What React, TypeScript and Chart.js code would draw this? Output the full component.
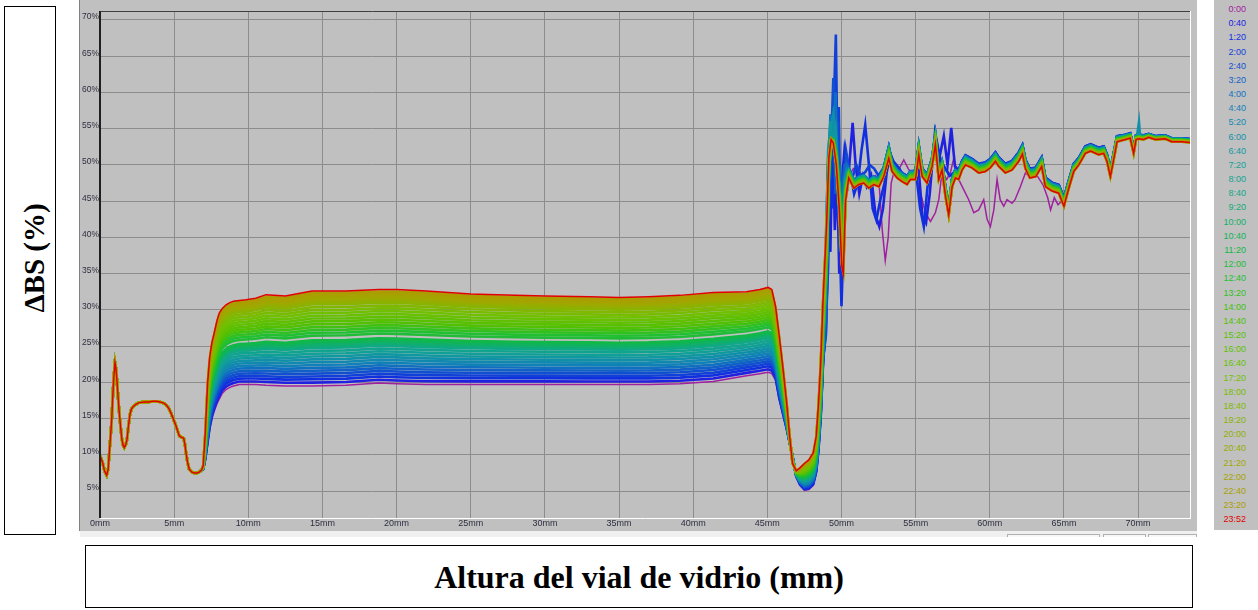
import React, { useEffect, useRef } from "react";
import { Chart, registerables } from "chart.js";

Chart.register(...registerables);

// ---------- legend / scan times ----------
const scanLabels = [
  "0:00", "0:40", "1:20", "2:00", "2:40", "3:20", "4:00", "4:40", "5:20", "6:00",
  "6:40", "7:20", "8:00", "8:40", "9:20", "10:00", "10:40", "11:20", "12:00", "12:40",
  "13:20", "14:00", "14:40", "15:20", "16:00", "16:40", "17:20", "18:00", "18:40", "19:20",
  "20:00", "20:40", "21:20", "22:00", "22:40", "23:20", "23:52",
];

const scanColors = [
  "#a020a0", "#2020e0", "#1030e0", "#1040d8", "#1050d0", "#1060c8", "#1070c0", "#1080b8", "#1088b0", "#1090a8",
  "#1098a0", "#10a098", "#10a490", "#10a888", "#10ac78", "#10b068", "#10b458", "#10b848", "#20bc38", "#20c030",
  "#30c020", "#40c010", "#50c000", "#58c000", "#60c000", "#68c000", "#70c000", "#78bc00", "#80b800", "#88b400",
  "#90b000", "#98ac00", "#a0a800", "#a4a400", "#a8a000", "#ac9c00", "#e00000",
];

// position of each scan inside the growing band (0 = first scan, 1 = last scan)
const scanPosition = [
  0, 0.035, 0.07, 0.1, 0.13, 0.16, 0.19, 0.22, 0.25, 0.28,
  0.31, 0.34, 0.37, 0.4, 0.42, 0.44, 0.46, 0.48, 0.53, 0.56,
  0.59, 0.62, 0.65, 0.68, 0.71, 0.74, 0.77, 0.8, 0.83, 0.86,
  0.88, 0.9, 0.92, 0.94, 0.96, 0.98, 1.0,
];

// ---------- axes ----------
const xTickValues = [0, 5, 10, 15, 20, 25, 30, 35, 40, 45, 50, 55, 60, 65, 70];
const yTickValues = [5, 10, 15, 20, 25, 30, 35, 40, 45, 50, 55, 60, 65, 70];

// ---------- common bottom part (0 - 6.85 mm), identical for all scans ----------
const baseX = [0, 0.18, 0.3, 0.45, 0.55, 0.63, 0.72, 0.79, 0.86, 0.92, 1.01, 1.07, 1.12, 1.2, 1.3, 1.4, 1.48, 1.56, 1.64, 1.73, 1.82, 1.92, 2.02, 2.12, 2.25, 2.45, 2.65, 3.0, 3.32, 3.55, 3.77, 4.05, 4.34, 4.5, 4.67, 4.9, 5.12, 5.35, 5.5, 5.64, 5.72, 5.8, 5.9, 6.02, 6.2, 6.36, 6.55, 6.69, 6.85];
const baseY = [9.9, 8.9, 7.8, 7.2, 8.0, 10.3, 12.8, 14.9, 18.0, 20.4, 22.7, 22.0, 20.9, 18.5, 15.8, 13.6, 12.1, 11.3, 11.0, 11.4, 12.1, 14.0, 15.6, 16.3, 16.7, 17.0, 17.2, 17.3, 17.3, 17.4, 17.4, 17.3, 17.1, 16.8, 16.3, 15.2, 14.0, 12.6, 12.4, 12.3, 11.5, 10.3, 9.0, 8.0, 7.6, 7.5, 7.5, 7.6, 7.9];

// ---------- middle zone (6.96 - 48.75 mm): first scan (0:00) and last scan (23:52) ----------
const fanX = [6.96, 7.1, 7.26, 7.4, 7.55, 7.7, 7.9, 8.05, 8.25, 8.5, 8.75, 9.0, 9.4, 9.85, 10.5, 11.2, 12.5, 14.3, 16.6, 18.8, 20, 22, 25, 28, 30, 33, 35, 37, 39.1, 41.35, 43.6, 44.5, 45.05, 45.3, 45.55, 45.8, 46.05, 46.3, 46.5, 46.7, 46.95, 47.2, 47.5, 47.8, 48.1, 48.3, 48.45, 48.6, 48.75];
const fanLow = [8.0, 9.3, 11.5, 13.5, 15.0, 16.0, 17.1, 17.7, 18.5, 19.0, 19.3, 19.5, 19.7, 19.7, 19.7, 19.6, 19.5, 19.5, 19.6, 19.9, 19.8, 19.7, 19.7, 19.7, 19.7, 19.7, 19.7, 19.7, 19.8, 20.1, 20.9, 21.2, 21.4, 21.2, 20.3, 17.6, 15.5, 13.5, 11.7, 9.8, 7.0, 5.8, 5.1, 5.2, 5.8, 7.5, 10.5, 15.0, 22.0];
const fanHigh = [8.5, 13, 20, 23.5, 25.5, 26.8, 28.6, 29.6, 30.2, 30.7, 31.0, 31.2, 31.3, 31.4, 31.6, 32.1, 31.9, 32.6, 32.6, 32.8, 32.8, 32.6, 32.2, 32.0, 31.9, 31.8, 31.7, 31.8, 32.0, 32.4, 32.5, 32.8, 33.1, 32.8, 30.5, 26.4, 22.0, 17.2, 12.6, 8.8, 7.8, 8.2, 8.8, 9.3, 10.3, 12.6, 17.0, 22.7, 31.0];

// ---------- top zone (49 - 73.5 mm): lower edge of the band and band thickness ----------
const bandX = [49.0, 49.15, 49.3, 49.45, 49.65, 49.85, 50.02, 50.12, 50.27, 50.49, 50.83, 51.17, 51.5, 51.84, 52.18, 52.52, 52.85, 53.19, 53.41, 53.75, 54.09, 54.42, 54.65, 54.99, 55.21, 55.44, 55.77, 56.11, 56.33, 56.56, 56.78, 57.01, 57.23, 57.46, 57.68, 57.9, 58.13, 58.36, 58.8, 59.25, 59.7, 60.04, 60.38, 60.6, 61.05, 61.5, 61.95, 62.2, 62.4, 62.7, 63.1, 63.5, 63.75, 64.2, 64.65, 65.0, 65.3, 65.66, 66.0, 66.44, 66.8, 67.34, 67.68, 67.9, 68.13, 68.35, 68.58, 69.14, 69.47, 69.7, 69.86, 70.04, 70.37, 70.71, 71.16, 71.83, 72.28, 72.96, 73.5];
const bandLow = [42, 51, 53.5, 53, 50, 44, 36, 35, 45, 48.2, 46.8, 47.3, 47.5, 46.8, 47.3, 47.0, 48.4, 50.9, 49.1, 48.2, 47.7, 47.3, 48.0, 48.0, 51.4, 48.4, 47.5, 49.8, 52.8, 48.0, 49.3, 45.7, 43.1, 47.0, 48.2, 48.0, 49.3, 50.0, 49.6, 48.9, 49.1, 49.6, 50.5, 49.8, 48.9, 49.3, 50.5, 51.5, 49.5, 48.2, 48.4, 49.8, 47.0, 46.4, 46.1, 44.3, 46.6, 49.1, 50.0, 51.6, 51.9, 51.4, 51.6, 50.5, 48.4, 50.7, 53.2, 53.5, 53.7, 51.6, 53.5, 53.6, 53.5, 53.8, 53.5, 53.6, 53.2, 53.2, 53.1];
const bandSpread = [-10, -4, 0, 1, 3, 5, 11, 12, 4, 1.5, 1.3, 1.3, 1.3, 1.3, 1.3, 1.3, 1.4, 1.8, 1.4, 1.3, 1.3, 1.3, 1.3, 1.3, 1.5, 1.3, 1.3, 1.3, 1.5, 1.3, 1.3, 1.3, 1.3, 1.3, 1.3, 1.3, 1.3, 1.4, 1.3, 1.3, 1.3, 1.3, 1.3, 1.3, 1.3, 1.3, 1.3, 1.3, 1.3, 1.3, 1.3, 1.3, 1.3, 1.2, 1.2, 1.2, 1.1, 1.1, 1.0, 1.0, 1.0, 1.0, 1.0, 1.0, 1.0, 0.9, 0.8, 0.7, 0.7, 0.7, 0.6, 0.6, 0.6, 0.5, 0.5, 0.5, 0.5, 0.5, 0.5];

// ---------- individual scans that leave the band ----------
const scan0X = [48.9, 49.1, 49.3, 49.55, 49.8, 50.1, 50.4, 50.8, 51.2, 51.5, 51.9, 52.3, 52.55, 52.75, 52.95, 53.15, 53.35, 53.6, 53.9, 54.2, 54.5, 54.8, 55.1, 55.4, 55.66, 56.0, 56.33, 56.56, 56.78, 57.1, 57.35, 57.57, 57.9, 58.24, 58.58, 58.92, 59.25, 59.59, 59.82, 60.04, 60.27, 60.49, 60.7, 60.94, 61.16, 61.5, 61.7, 62.06, 62.4, 62.8, 63.2, 63.6, 63.9, 64.1, 64.35, 64.6, 64.85, 65.1, 65.4];
const scan0Y = [33, 45, 50, 46, 41, 45, 48, 49.5, 49, 48.5, 47.5, 48.5, 47, 41, 36.8, 40, 47.5, 49.5, 49.5, 50.7, 49.5, 48.5, 47.7, 45.5, 43.4, 42.2, 43.4, 45.2, 49, 48, 49, 50.9, 48, 46.6, 45.2, 43.4, 43.8, 45.2, 42.5, 41.5, 43.8, 48, 45.2, 44.3, 45.2, 44.7, 45.2, 47, 48.9, 48.2, 48.5, 47.2, 45.5, 43.8, 45.5, 44.5, 45, 46, 47.5];

const scan1X = [48.95, 49.1, 49.25, 49.4, 49.55, 49.7, 49.85, 50.0, 50.2, 50.45, 50.75, 50.95, 51.2, 51.45, 51.7, 52.0, 52.3, 52.55, 52.8, 53.05, 53.3, 53.6, 54.0, 54.4, 54.8, 55.2, 55.45, 55.7, 55.95, 56.3, 56.6, 56.9, 57.15, 57.4, 57.65, 57.9];
const scan1Y = [30, 45, 38, 55, 41, 49, 35, 47, 52, 48, 55.8, 50, 46, 48.5, 47, 48.5, 43, 41.5, 44, 49, 51.5, 49.5, 49, 48.5, 49, 49.5, 43, 42, 46, 54.4, 51, 54, 50, 55.1, 49.8, 49.3];

const scan2X = [48.95, 49.1, 49.25, 49.4, 49.55, 49.7, 49.85, 50.0, 50.2, 50.4, 50.6, 50.85, 51.1, 51.35, 51.6, 51.85, 52.1, 52.35, 52.6, 52.9, 53.2, 53.5, 53.9, 54.3, 54.7, 55.0, 55.3, 55.55, 55.8, 56.1, 56.4, 56.7, 57.0, 57.3, 57.6];
const scan2Y = [28, 36, 52, 44, 60, 47, 42, 30.5, 44, 50, 49, 46, 47.5, 52, 55.5, 50, 44, 42.4, 45, 47.5, 52, 50.5, 49.5, 48, 48.5, 49.5, 44, 41.5, 47, 50, 53.5, 50.5, 49.5, 48.5, 49];

const scan3X = [48.95, 49.1, 49.25, 49.45, 49.62, 49.72, 49.82, 49.95, 50.1, 50.3, 50.5, 50.7, 51.0, 51.3, 51.6, 51.9, 52.2, 52.5, 52.8];
const scan3Y = [27, 40, 48, 56, 68, 52, 58, 38, 45, 52, 49.5, 48, 50, 48.5, 49, 50, 49.5, 48.5, 49.5];

const spikeX = [48.95, 49.1, 49.25, 49.45, 49.6, 49.75, 49.9, 50.05, 50.2, 50.35];
const spike4Y = [26.5, 42, 50, 62, 50, 56, 44, 40, 49, 51];
const spike5Y = [30, 48, 54, 58, 46, 52, 38, 47, 50, 50];
const spike6Y = [33, 46, 57, 52, 60, 48, 50, 36, 47, 50];
const spike7Y = [35, 50, 55, 54, 50, 47, 42, 44, 48, 49.5];
const spike8Y = [37, 50, 54, 56, 52, 46, 40, 38, 47, 49];
const spike9Y = [38, 52, 55, 57, 51, 48, 45, 41, 48, 49];
const spike10Y = [40, 51, 56, 53, 55, 49, 43, 39, 46, 49];

const scan9X = [69.92, 70.06, 70.12, 70.22];
const scan9Y = [53.9, 55.9, 54.3, 53.9];

const overrideList: [number, number[], number[]][] = [
  [0, scan0X, scan0Y],
  [1, scan1X, scan1Y],
  [2, scan2X, scan2Y],
  [3, scan3X, scan3Y],
  [4, spikeX, spike4Y],
  [5, spikeX, spike5Y],
  [6, spikeX, spike6Y],
  [7, spikeX, spike7Y],
  [8, spikeX, spike8Y],
  [9, spikeX, spike9Y],
  [9, scan9X, scan9Y],
  [10, spikeX, spike10Y],
];

function buildScan(i: number) {
  const p = scanPosition[i];
  const head = baseX.map((x, j) => ({ x, y: baseY[j] }));
  const mid = fanX.map((x, j) => ({ x, y: fanLow[j] + p * (fanHigh[j] - fanLow[j]) }));
  let tail = bandX.map((x, j) => ({ x, y: bandLow[j] + (1 - p) * bandSpread[j] }));
  overrideList
    .filter((o) => o[0] === i)
    .forEach(([, ox, oy]) => {
      const lo = ox[0];
      const hi = ox[ox.length - 1];
      tail = tail
        .filter((pt) => pt.x < lo || pt.x > hi)
        .concat(ox.map((x, j) => ({ x, y: oy[j] })));
    });
  tail.sort((a, b) => a.x - b.x);
  return head.concat(mid, tail);
}

const framePlugin = {
  id: "frame",
  afterDraw(chart: any) {
    const { ctx, chartArea: a } = chart;
    ctx.save();
    ctx.lineWidth = 1;
    ctx.strokeStyle = "#ffffff";
    ctx.beginPath();
    ctx.moveTo(a.left, Math.round(a.bottom) + 0.5);
    ctx.lineTo(a.right + 1, Math.round(a.bottom) + 0.5);
    ctx.moveTo(Math.round(a.right) + 0.5, a.top);
    ctx.lineTo(Math.round(a.right) + 0.5, a.bottom + 1);
    ctx.stroke();
    ctx.strokeStyle = "#404040";
    ctx.beginPath();
    ctx.moveTo(a.left, Math.round(a.top) + 0.5);
    ctx.lineTo(a.right, Math.round(a.top) + 0.5);
    ctx.stroke();
    ctx.strokeStyle = "#202020";
    ctx.lineWidth = 2;
    ctx.beginPath();
    ctx.moveTo(Math.round(a.left), a.top);
    ctx.lineTo(Math.round(a.left), a.bottom);
    ctx.stroke();
    ctx.restore();
  },
};

export default function App() {
  const canvasRef = useRef<HTMLCanvasElement | null>(null);

  useEffect(() => {
    const canvas = canvasRef.current;
    if (!canvas) return;
    const last = scanLabels.length - 1;
    const chart = new Chart(canvas, {
      type: "line",
      data: {
        datasets: scanLabels.map((label, i) => ({
          label,
          data: buildScan(i),
          borderColor: scanColors[i],
          backgroundColor: scanColors[i],
          borderWidth: i === 0 || i === last ? 1.5 : 2.6,
          pointRadius: 0,
          fill: false,
          tension: 0,
          order: last - i,
        })),
      },
      options: {
        responsive: false,
        animation: false,
        devicePixelRatio: 1,
        events: [],
        layout: { padding: { left: 0, right: 7, top: 11, bottom: 0 } },
        plugins: { legend: { display: false }, tooltip: { enabled: false } },
        scales: {
          x: {
            type: "linear",
            min: 0,
            max: 73.5,
            afterBuildTicks: (s: any) => {
              s.ticks = xTickValues.map((v) => ({ value: v }));
            },
            afterFit: (s: any) => {
              s.height = 13;
            },
            grid: { color: "#8c8c8c", lineWidth: 1, drawTicks: false },
            border: { display: false },
            ticks: {
              padding: 0,
              autoSkip: false,
              maxRotation: 0,
              color: "#2e2e40",
              font: { family: "'Liberation Sans', Arial, sans-serif", size: 9 },
              callback: (v: any) => `${v}mm`,
            },
          },
          y: {
            type: "linear",
            min: 1.28,
            max: 71.24,
            afterBuildTicks: (s: any) => {
              s.ticks = yTickValues.map((v) => ({ value: v }));
            },
            afterFit: (s: any) => {
              s.width = 20;
            },
            grid: { color: "#8c8c8c", lineWidth: 1, drawTicks: false },
            border: { display: false },
            ticks: {
              padding: 1,
              labelOffset: -3,
              autoSkip: false,
              color: "#2e2e40",
              font: { family: "'Liberation Sans', Arial, sans-serif", size: 8.5 },
              callback: (v: any) => `${v}%`,
            },
          },
        },
      },
      plugins: [framePlugin],
    } as any);
    return () => chart.destroy();
  }, []);

  return (
    <div
      style={{
        position: "absolute",
        left: 0,
        top: 0,
        width: 1258,
        height: 610,
        background: "#ffffff",
        overflow: "hidden",
      }}
    >
      {/* y axis title box */}
      <div
        style={{
          position: "absolute",
          left: 4,
          top: 6,
          width: 50,
          height: 527,
          border: "1.5px solid #000",
          background: "#fff",
        }}
      />
      <div
        style={{
          position: "absolute",
          left: 33.5,
          top: 258,
          transform: "translate(-50%, -50%) rotate(-90deg)",
          fontFamily: "'Liberation Serif', 'Times New Roman', serif",
          fontWeight: "bold",
          fontSize: 29,
          lineHeight: "29px",
          whiteSpace: "nowrap",
          color: "#000",
        }}
      >
        ΔBS (%)
      </div>

      {/* chart panel */}
      <div
        style={{
          position: "absolute",
          left: 79,
          top: 0,
          width: 1118,
          height: 531,
          background: "#c0c0c0",
          borderLeft: "1px solid #808080",
          boxSizing: "border-box",
        }}
      />
      <canvas
        ref={canvasRef}
        width={1117}
        height={531}
        style={{ position: "absolute", left: 80, top: 0, width: 1117, height: 531 }}
      />
      <div
        style={{
          position: "absolute",
          left: 80,
          top: 531,
          width: 1117,
          height: 6,
          background: "#f0f0f0",
        }}
      />
      {[
        [1007, 93],
        [1103, 43],
        [1148, 49],
      ].map(([l, w], k) => (
        <div
          key={k}
          style={{
            position: "absolute",
            left: l,
            top: 534,
            width: w,
            height: 3,
            borderTop: "1px solid #b0b0b0",
            borderLeft: "1px solid #b0b0b0",
            borderRight: "1px solid #b0b0b0",
            background: "#f8f8f8",
            boxSizing: "border-box",
          }}
        />
      ))}

      {/* legend panel */}
      <div
        style={{
          position: "absolute",
          left: 1214,
          top: 0,
          width: 44,
          height: 530,
          background: "#c0c0c0",
        }}
      >
        {scanLabels.map((label, i) => (
          <div
            key={label}
            style={{
              position: "absolute",
              left: 0,
              top: 9 + i * 14.175 - 6,
              width: 32,
              height: 12,
              lineHeight: "12px",
              textAlign: "right",
              fontFamily: "'Liberation Sans', Arial, sans-serif",
              fontSize: 9,
              color: scanColors[i],
              whiteSpace: "nowrap",
            }}
          >
            {label}
          </div>
        ))}
      </div>

      {/* x axis title box */}
      <div
        style={{
          position: "absolute",
          left: 85,
          top: 545,
          width: 1108,
          height: 63,
          border: "1.5px solid #000",
          boxSizing: "border-box",
          display: "flex",
          alignItems: "center",
          justifyContent: "center",
          fontFamily: "'Liberation Serif', 'Times New Roman', serif",
          fontWeight: "bold",
          fontSize: 32,
          lineHeight: "32px",
          color: "#000",
          whiteSpace: "nowrap",
        }}
      >
        Altura del vial de vidrio (mm)
      </div>
    </div>
  );
}
